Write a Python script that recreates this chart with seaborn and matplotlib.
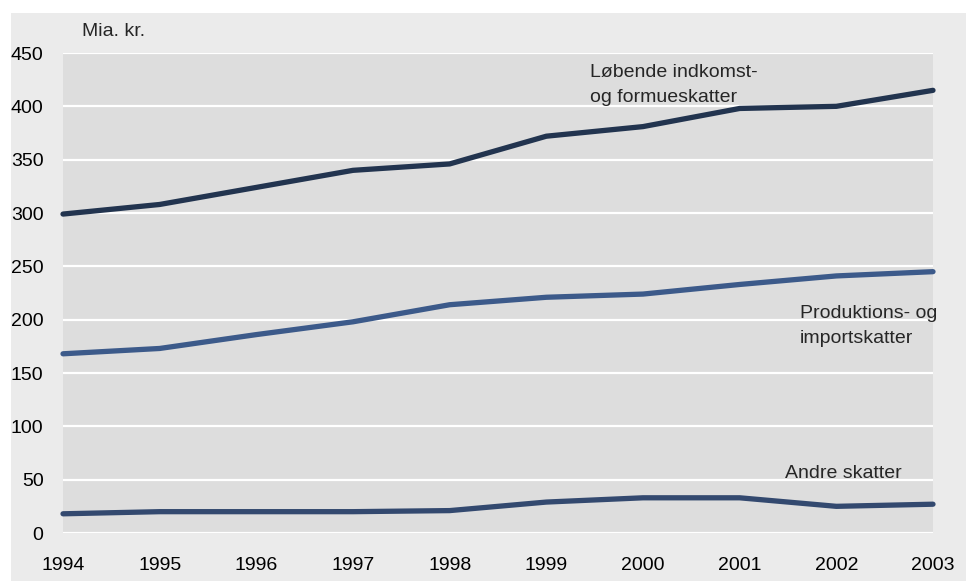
import matplotlib
matplotlib.use("Agg")
import matplotlib.pyplot as plt
from matplotlib.patches import Rectangle
import seaborn as sns
import pandas as pd

years = [1994, 1995, 1996, 1997, 1998, 1999, 2000, 2001, 2002, 2003]
lobende = [299, 308, 324, 340, 346, 372, 381, 398, 400, 415]
produktion = [168, 173, 186, 198, 214, 221, 224, 233, 241, 245]
andre = [18, 20, 20, 20, 21, 29, 33, 33, 25, 27]
series_names = ["Løbende indkomst- og formueskatter",
                "Produktions- og importskatter",
                "Andre skatter"]
y_ticks = [0, 50, 100, 150, 200, 250, 300, 350, 400, 450]

df = pd.DataFrame({
    "år": years * 3,
    "mia": lobende + produktion + andre,
    "serie": [series_names[0]] * len(years)
             + [series_names[1]] * len(years)
             + [series_names[2]] * len(years),
})

sns.set_theme(style="white")
plt.rcParams["font.family"] = ["Liberation Sans", "DejaVu Sans"]

fig = plt.figure(figsize=(9.71, 5.81), dpi=100)
fig.patch.set_facecolor("white")
fig.patches.append(Rectangle((11 / 971, 0), (966 - 11) / 971, 1 - 13 / 581,
                             transform=fig.transFigure, facecolor="#ebebeb",
                             edgecolor="none", zorder=-5))

ax = fig.add_axes([63 / 971, 1 - 533 / 581, (933 - 63) / 971, (533 - 53) / 581])
ax.set_zorder(2)
ax.set_facecolor("#dddddd")

palette = {series_names[0]: "#22344f",
           series_names[1]: "#3c5a8a",
           series_names[2]: "#33496f"}
sns.lineplot(data=df, x="år", y="mia", hue="serie", palette=palette,
             linewidth=3.8, legend=False, ax=ax)
for ln in ax.get_lines():
    ln.set_solid_capstyle("round")
    ln.set_solid_joinstyle("round")
    ln.set_clip_on(False)
    ln.set_zorder(3)

ax.set_xlim(1994, 2003)
ax.set_ylim(0, 450)
ax.set_xticks(years)
ax.set_xticklabels([str(y) for y in years])
ax.set_yticks(y_ticks)
ax.yaxis.grid(True, color="white", linewidth=1.6)
ax.xaxis.grid(False)
ax.set_axisbelow(True)
for s in ax.spines.values():
    s.set_visible(False)
fs = 14
ax.tick_params(axis="both", length=0, labelsize=fs, colors="black")
ax.tick_params(axis="y", pad=14)
ax.tick_params(axis="x", pad=17)
ax.set_xlabel("")
ax.set_ylabel("")

fig.text(82 / 971, 1 - 32 / 581, "Mia. kr.", fontsize=fs, va="center", ha="left")
ax.text(1999.45, 440, "Løbende indkomst-\nog formueskatter", fontsize=fs,
        va="top", ha="left", linespacing=1.65)
ax.text(2001.62, 214, "Produktions- og\nimportskatter", fontsize=fs,
        va="top", ha="left", linespacing=1.65)
ax.text(2001.47, 64, "Andre skatter", fontsize=fs, va="top", ha="left")

fig.savefig("out.png", dpi=100)
